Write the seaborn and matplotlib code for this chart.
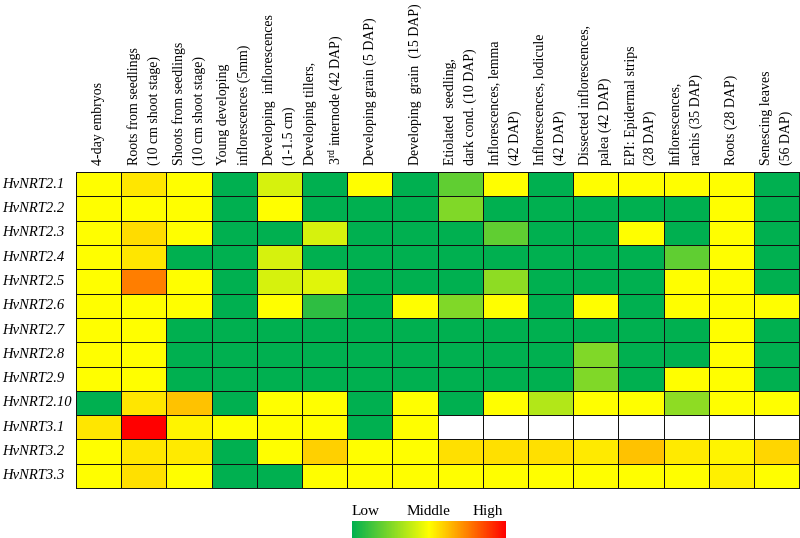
import numpy as np
import pandas as pd
import matplotlib
matplotlib.use("Agg")
import matplotlib.pyplot as plt
from matplotlib.colors import LinearSegmentedColormap
import seaborn as sns

# tissues (columns of the heatmap)
tissues = [
    "4-day embryos",
    "Roots from seedlings\n(10 cm shoot stage)",
    "Shoots from seedlings\n(10 cm shoot stage)",
    "Young developing\ninflorescences (5mm)",
    "Developing  inflorescences\n(1-1.5 cm)",
    "Developing tillers,\n3$^{\\mathrm{rd}}$ internode (42 DAP)",
    "Developing grain (5 DAP)",
    "Developing  grain  (15 DAP)",
    "Etiolated  seedling,\ndark cond. (10 DAP)",
    "Inflorescences, lemma\n(42 DAP)",
    "Inflorescences, lodicule\n(42 DAP)",
    "Dissected inflorescences,\npalea (42 DAP)",
    "EPI: Epidermal strips\n(28 DAP)",
    "Inflorescences,\nrachis (35 DAP)",
    "Roots (28 DAP)",
    "Senescing leaves\n(56 DAP)",
]

genes = ["HvNRT2.1", "HvNRT2.2", "HvNRT2.3", "HvNRT2.4", "HvNRT2.5", "HvNRT2.6",
         "HvNRT2.7", "HvNRT2.8", "HvNRT2.9", "HvNRT2.10", "HvNRT3.1", "HvNRT3.2", "HvNRT3.3"]

# relative expression: 0 = low, 0.5 = middle, 1 = high
nrt2_1 = [0.5, 0.55, 0.5, 0, 0.42, 0, 0.5, 0, 0.19, 0.5, 0, 0.5, 0.5, 0.5, 0.5, 0]
nrt2_2 = [0.5, 0.5, 0.5, 0, 0.5, 0, 0, 0, 0.25, 0, 0, 0, 0, 0, 0.5, 0]
nrt2_3 = [0.5, 0.57, 0.5, 0, 0, 0.42, 0, 0, 0, 0.19, 0, 0, 0.5, 0, 0.5, 0]
nrt2_4 = [0.5, 0.55, 0, 0, 0.42, 0, 0, 0, 0, 0, 0, 0, 0, 0.19, 0.5, 0]
nrt2_5 = [0.5, 0.75, 0.5, 0, 0.42, 0.44, 0, 0, 0, 0.28, 0, 0, 0, 0.5, 0.5, 0]
nrt2_6 = [0.5, 0.5, 0.5, 0, 0.5, 0.09, 0, 0.5, 0.25, 0.5, 0, 0.5, 0, 0.5, 0.5, 0.5]
nrt2_7 = [0.5, 0.5, 0, 0, 0, 0, 0, 0, 0, 0, 0, 0, 0, 0, 0.5, 0]
nrt2_8 = [0.5, 0.5, 0, 0, 0, 0, 0, 0, 0, 0, 0, 0.25, 0, 0, 0.5, 0]
nrt2_9 = [0.5, 0.5, 0, 0, 0, 0, 0, 0, 0, 0, 0, 0.25, 0, 0.5, 0.5, 0]
nrt2_10 = [0, 0.55, 0.62, 0, 0.5, 0.5, 0, 0.5, 0, 0.5, 0.35, 0.5, 0.5, 0.28, 0.5, 0.5]
nrt3_1 = [0.55, 1.0, 0.52, 0.5, 0.5, 0.5, 0, 0.5] + [np.nan] * 8
nrt3_2 = [0.5, 0.55, 0.54, 0, 0.5, 0.59, 0.5, 0.5, 0.56, 0.56, 0.56, 0.54, 0.62, 0.54, 0.52, 0.58]
nrt3_3 = [0.5, 0.56, 0.5, 0, 0, 0.5, 0.5, 0.5, 0.5, 0.5, 0.5, 0.5, 0.5, 0.5, 0.53, 0.5]

df = pd.DataFrame([nrt2_1, nrt2_2, nrt2_3, nrt2_4, nrt2_5, nrt2_6, nrt2_7,
                   nrt2_8, nrt2_9, nrt2_10, nrt3_1, nrt3_2, nrt3_3],
                  index=genes, columns=tissues)

plt.rcParams['font.family'] = ['Liberation Serif', 'DejaVu Serif']
plt.rcParams['mathtext.fontset'] = 'custom'
plt.rcParams['mathtext.rm'] = 'Liberation Serif'

cmap = LinearSegmentedColormap.from_list("gyr", ["#00B050", "#FFFF00", "#FF0000"])

fig = plt.figure(figsize=(8, 5.38), dpi=100)
ax = fig.add_axes([0.095, 0.093, 0.904, 0.587])
ax.set_facecolor("white")
cax = fig.add_axes([0.44, 0.0, 0.1925, 0.032])

# missing values (NaN) stay white
sns.heatmap(df, cmap=cmap, vmin=0, vmax=1, linewidths=0.7, linecolor="#111111",
            ax=ax, cbar_ax=cax, cbar_kws={"orientation": "horizontal"})
cbar = ax.collections[0].colorbar

for side in ["top", "bottom", "left", "right"]:
    ax.spines[side].set_visible(True)
    ax.spines[side].set_color("#111111")
    ax.spines[side].set_linewidth(0.7)
    ax.spines[side].set_zorder(5)

ax.xaxis.tick_top()
ax.tick_params(axis="both", length=0)
ax.tick_params(axis="x", pad=5)
ax.tick_params(axis="y", pad=53)
ax.set_xticklabels(tissues, rotation=90, ha="center", va="bottom",
                   fontsize=10, linespacing=1.6)
for t in ax.get_xticklabels():
    t.set_multialignment("left")
ax.set_yticklabels(genes, rotation=0, fontsize=10.5, style="italic", ha="left")
ax.set_xlabel("")
ax.set_ylabel("")

cbar.outline.set_visible(False)
cax.set_xticks([])
cax.set_yticks([])

fig.text(0.44, 0.037, "Low", fontsize=11, ha="left", va="bottom")
fig.text(0.535, 0.037, "Middle", fontsize=11, ha="center", va="bottom")
fig.text(0.61, 0.037, "High", fontsize=11, ha="center", va="bottom")

fig.savefig("out.png", dpi=100)
